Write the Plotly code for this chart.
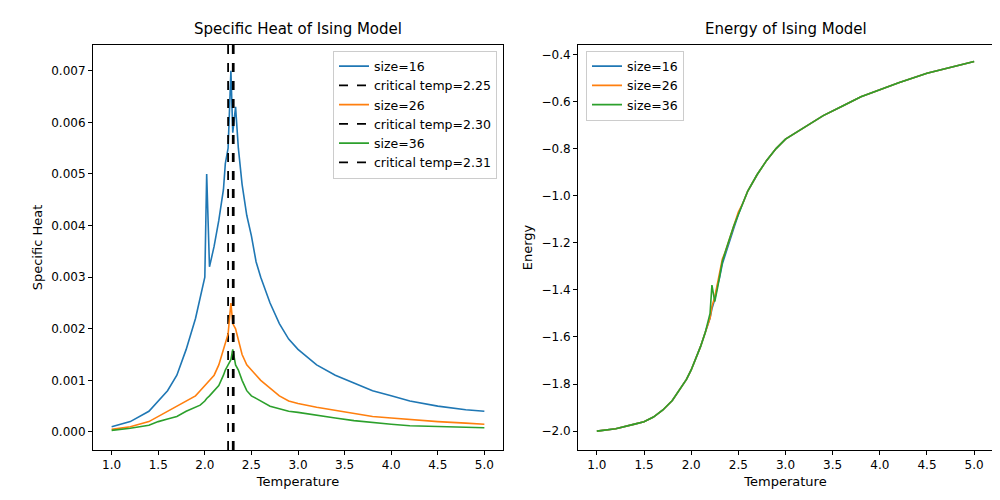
import plotly.graph_objects as go

temps = [1.0, 1.2, 1.4, 1.5, 1.6, 1.7, 1.8, 1.9, 1.95, 2.0, 2.02, 2.05, 2.1, 2.15, 2.2, 2.22,
         2.25, 2.28, 2.3, 2.33, 2.36, 2.4, 2.45, 2.5, 2.55, 2.6, 2.7, 2.8, 2.9, 3.0, 3.2, 3.4,
         3.6, 3.8, 4.0, 4.2, 4.5, 4.8, 5.0]

heat16 = [0.0001, 0.0002, 0.0004, 0.0006, 0.0008, 0.0011, 0.0016, 0.0022, 0.0026, 0.0030, 0.0050,
          0.0032, 0.0036, 0.0041, 0.0047, 0.0052, 0.0055, 0.0070, 0.0058, 0.0063, 0.0055, 0.0048,
          0.0042, 0.0038, 0.0033, 0.0030, 0.0025, 0.0021, 0.0018, 0.0016, 0.0013, 0.0011, 0.00095,
          0.0008, 0.0007, 0.0006, 0.0005, 0.00043, 0.0004]
heat26 = [0.00005, 0.0001, 0.0002, 0.0003, 0.0004, 0.0005, 0.0006, 0.0007, 0.0008, 0.0009, 0.00095,
          0.001, 0.0011, 0.0013, 0.0016, 0.0017, 0.0019, 0.0025, 0.0021, 0.002, 0.0018, 0.0015,
          0.0013, 0.0012, 0.0011, 0.001, 0.00085, 0.0007, 0.0006, 0.00055, 0.00048, 0.00042,
          0.00036, 0.0003, 0.00027, 0.00024, 0.0002, 0.00017, 0.00015]
heat36 = [0.00003, 0.00007, 0.00013, 0.0002, 0.00025, 0.0003, 0.0004, 0.00048, 0.00052, 0.0006,
          0.00065, 0.0007, 0.0008, 0.0009, 0.0011, 0.0012, 0.0013, 0.0014, 0.0016, 0.0013, 0.0012,
          0.001, 0.0008, 0.0007, 0.00065, 0.0006, 0.0005, 0.00045, 0.0004, 0.00038, 0.00032,
          0.00027, 0.00022, 0.00018, 0.00015, 0.00012, 0.0001, 0.00009, 0.00008]

energy16 = [-2.0, -1.99, -1.97, -1.96, -1.94, -1.91, -1.87, -1.81, -1.78, -1.74, -1.72, -1.69,
            -1.64, -1.58, -1.52, -1.48, -1.44, -1.38, -1.35, -1.29, -1.25, -1.2, -1.14, -1.08,
            -1.03, -0.98, -0.91, -0.85, -0.8, -0.76, -0.71, -0.66, -0.62, -0.58, -0.55, -0.52,
            -0.48, -0.45, -0.43]
energy26 = [-2.0, -1.99, -1.97, -1.96, -1.94, -1.91, -1.87, -1.81, -1.78, -1.74, -1.72, -1.69,
            -1.64, -1.58, -1.52, -1.47, -1.43, -1.37, -1.33, -1.27, -1.24, -1.19, -1.13, -1.07,
            -1.03, -0.98, -0.91, -0.85, -0.8, -0.76, -0.71, -0.66, -0.62, -0.58, -0.55, -0.52,
            -0.48, -0.45, -0.43]
energy36 = [-2.0, -1.99, -1.97, -1.96, -1.94, -1.91, -1.87, -1.81, -1.78, -1.74, -1.72, -1.69,
            -1.64, -1.58, -1.5, -1.38, -1.45, -1.39, -1.34, -1.28, -1.24, -1.19, -1.13, -1.08,
            -1.03, -0.98, -0.91, -0.85, -0.8, -0.76, -0.71, -0.66, -0.62, -0.58, -0.55, -0.52,
            -0.48, -0.45, -0.43]

sizes = [16, 26, 36]
crit_temps = [2.25, 2.30, 2.31]
colors = ['#1f77b4', '#ff7f0e', '#2ca02c']

heat = [heat16, heat26, heat36]
energy = [energy16, energy26, energy36]

fig = go.Figure()
for i, s in enumerate(sizes):
    fig.add_trace(go.Scatter(x=temps, y=heat[i], mode='lines', name=f'size={s}',
                             line=dict(color=colors[i], width=1.6), xaxis='x', yaxis='y', legend='legend'))
    fig.add_trace(go.Scatter(x=[crit_temps[i], crit_temps[i]], y=[-1, 1], mode='lines',
                             name=f'critical temp={crit_temps[i]:.2f}',
                             line=dict(color='black', width=1.8, dash='dash'),
                             xaxis='x', yaxis='y', legend='legend'))
for i, s in enumerate(sizes):
    fig.add_trace(go.Scatter(x=temps, y=energy[i], mode='lines', name=f'size={s}',
                             line=dict(color=colors[i], width=1.6), xaxis='x2', yaxis='y2', legend='legend2'))

ax = dict(showgrid=False, zeroline=False, showline=True, linecolor='black', mirror=True,
          ticks='outside', ticklen=4, tickfont=dict(size=12), color='black', automargin=False)
leg = dict(bgcolor='rgba(255,255,255,0.8)', bordercolor='#cccccc', borderwidth=1,
           font=dict(size=12.5), tracegroupgap=0)

fig.update_layout(
    width=1000, height=500, margin=dict(l=0, r=0, t=0, b=0),
    plot_bgcolor='white', paper_bgcolor='white',
    font=dict(family='DejaVu Sans', color='black'),
    xaxis=dict(ax, domain=[0.085, 0.495], range=[0.8, 5.2], dtick=0.5, tickformat='.1f',
               title=dict(text='Temperature', font=dict(size=13), standoff=5)),
    yaxis=dict(ax, domain=[0.116, 0.926], range=[-0.00035, 0.0075], dtick=0.001, tickformat='.3f',
               title=dict(text='Specific Heat', font=dict(size=13), standoff=5)),
    xaxis2=dict(ax, domain=[0.57, 0.985], range=[0.8, 5.2], dtick=0.5, tickformat='.1f', anchor='y2',
                title=dict(text='Temperature', font=dict(size=13), standoff=5)),
    yaxis2=dict(ax, domain=[0.116, 0.926], range=[-2.08, -0.36], dtick=0.2, tickformat='.1f', anchor='x2',
                title=dict(text='Energy', font=dict(size=13), standoff=5)),
    legend=dict(leg, x=0.489, y=0.915, xanchor='right', yanchor='top'),
    legend2=dict(leg, x=0.578, y=0.915, xanchor='left', yanchor='top'),
    annotations=[
        dict(text='Specific Heat of Ising Model', x=0.29, y=0.935, xref='paper', yref='paper',
             showarrow=False, xanchor='center', yanchor='bottom', font=dict(size=15)),
        dict(text='Energy of Ising Model', x=0.7775, y=0.935, xref='paper', yref='paper',
             showarrow=False, xanchor='center', yanchor='bottom', font=dict(size=15)),
    ],
)

fig.write_html("out.html")
